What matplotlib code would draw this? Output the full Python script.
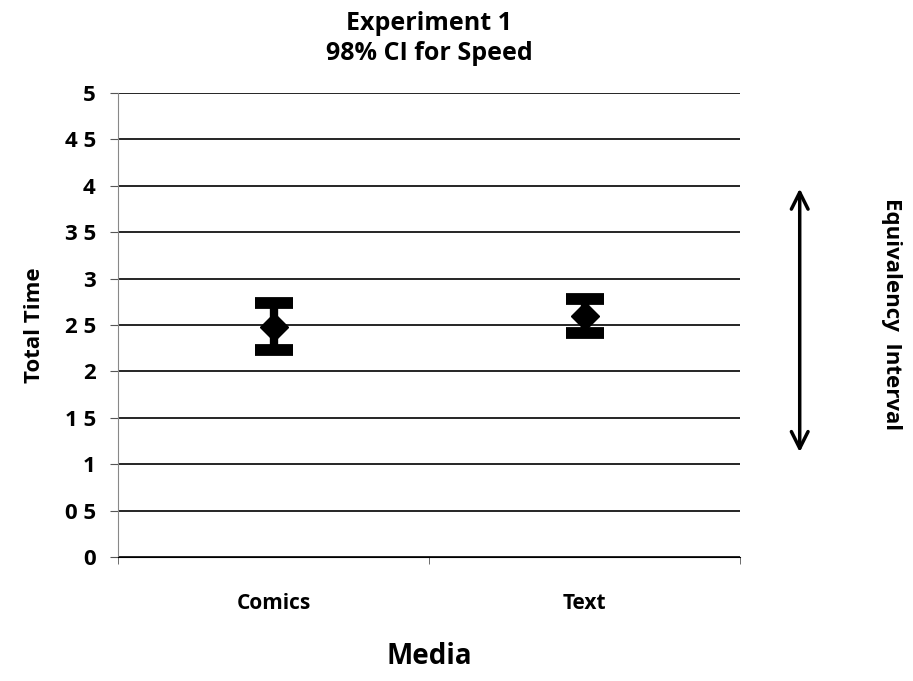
import matplotlib.pyplot as plt
from matplotlib.transforms import blended_transform_factory

plt.rcParams['font.family'] = ['Open Sans', 'DejaVu Sans']

# datos
medios = ['Comics', 'Text']
medias = [2.48, 2.60]
ic_sup = [2.74, 2.78]
ic_inf = [2.23, 2.41]
yticks = [0, 0.5, 1, 1.5, 2, 2.5, 3, 3.5, 4, 4.5, 5]
ytick_labels = ['0', '0 5', '1', '1 5', '2', '2 5', '3', '3 5', '4', '4 5', '5']
intervalo = [1.1, 4.0]

fig = plt.figure(figsize=(9.13, 6.81), dpi=100)
ax = fig.add_axes([118 / 913, 1 - 557 / 681, 622 / 913, 464 / 681])

x = [0, 1]
err_low = [m - l for m, l in zip(medias, ic_inf)]
err_high = [h - m for m, h in zip(medias, ic_sup)]
ax.errorbar(x, medias, yerr=[err_low, err_high], fmt='D', color='black',
            markersize=14, elinewidth=6, capsize=14, capthick=8.5, zorder=3)

ax.set_xlim(-0.5, 1.5)
ax.set_ylim(0, 5)
ax.set_yticks(yticks)
ax.set_yticklabels(ytick_labels, fontsize=16, fontweight='bold')
ax.set_xticks(x)
ax.set_xticklabels(medios, fontsize=15, fontweight='bold')
ax.tick_params(axis='x', length=0, pad=26)
ax.set_xticks([-0.5, 0.5, 1.5], minor=True)
ax.tick_params(axis='x', which='minor', length=5, color='#555555')
ax.tick_params(axis='y', length=6, color='#555555', pad=10)
ax.grid(True, axis='y', color='black', linewidth=1.2)
for s in ['top', 'right']:
    ax.spines[s].set_visible(False)
ax.spines['left'].set_color('#888888')
ax.spines['bottom'].set_color('black')

ax.set_title('Experiment 1\n98% CI for Speed', fontsize=18, fontweight='bold', pad=24,
             linespacing=1.25)
ax.set_xlabel('Media', fontsize=20, fontweight='bold', labelpad=20)
ax.set_ylabel('Total Time', fontsize=16, fontweight='bold', labelpad=14)

# flecha del intervalo de equivalencia
trans = blended_transform_factory(ax.transAxes, ax.transData)
ax.annotate('', xy=(1.096, intervalo[1]), xytext=(1.096, intervalo[0]),
            xycoords=trans, textcoords=trans,
            arrowprops=dict(arrowstyle='<->', color='black', lw=2.5, mutation_scale=30))
ax.text(1.243, sum(intervalo) / 2 + 0.07, 'Equivalency  Interval', transform=trans,
        rotation=-90, ha='center', va='center', fontsize=16, fontweight='bold')

fig.savefig('out.png', dpi=100)
